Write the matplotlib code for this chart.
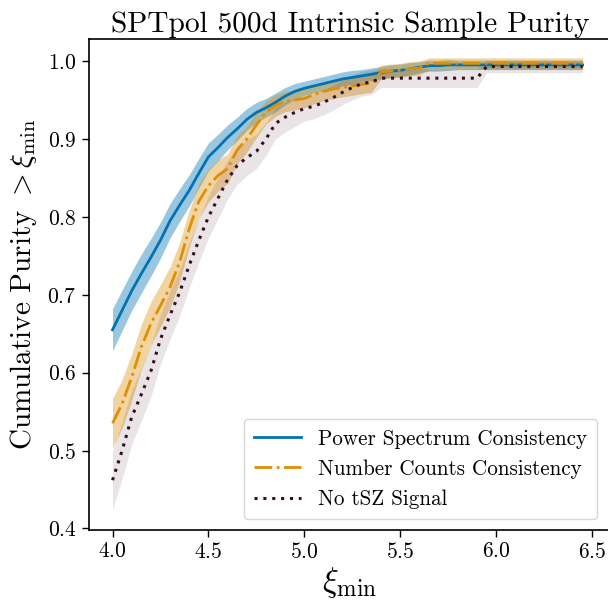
import matplotlib
matplotlib.use('Agg')
import matplotlib.pyplot as plt
import numpy as np

plt.rcParams['font.family'] = 'serif'
plt.rcParams['font.serif'] = ['cmr10']
plt.rcParams['mathtext.fontset'] = 'cm'
plt.rcParams['axes.formatter.use_mathtext'] = True

# xi_min grid
xi = [4.00, 4.05, 4.10, 4.15, 4.20, 4.25, 4.30, 4.35, 4.40, 4.45,
      4.50, 4.55, 4.60, 4.65, 4.70, 4.75, 4.80, 4.85, 4.90, 4.95,
      5.00, 5.05, 5.10, 5.15, 5.20, 5.25, 5.30, 5.35, 5.40, 5.45,
      5.50, 5.55, 5.60, 5.65, 5.70, 5.75, 5.80, 5.85, 5.90, 5.95,
      6.00, 6.05, 6.10, 6.15, 6.20, 6.25, 6.30, 6.35, 6.40, 6.45]

# Power spectrum consistency
ps_mid = [.655, .680, .705, .727, .748, .770, .795, .815, .834, .856,
          .877, .889, .902, .913, .925, .934, .940, .947, .955, .961,
          .965, .968, .971, .974, .977, .979, .981, .983, .985, .987,
          .988, .990, .992, .994, .994, .995, .995, .995, .995, .995,
          .995, .995, .995, .995, .995, .995, .995, .995, .995, .995]
ps_err = [.027, .026, .025, .025, .024, .023, .022, .021, .020, .019,
          .018, .017, .016, .015, .014, .013, .012, .012, .011, .010,
          .009, .009, .009, .009, .009, .009, .008, .008, .008, .008,
          .008, .008, .007, .007, .007, .007, .006, .006, .006, .006,
          .006, .006, .006, .006, .006, .006, .006, .006, .006, .006]

# Number counts consistency
nc_mid = [.535, .560, .594, .633, .663, .686, .710, .742, .785, .820,
          .840, .853, .862, .886, .900, .918, .934, .943, .948, .950,
          .952, .957, .961, .964, .966, .968, .970, .972, .986, .987,
          .988, .990, .991, .997, .997, .997, .997, .997, .997, .997,
          .997, .997, .997, .997, .997, .997, .997, .997, .997, .997]
nc_err = [.032, .031, .030, .029, .028, .027, .026, .025, .024, .022,
          .021, .020, .019, .018, .017, .016, .015, .014, .013, .013,
          .012, .012, .012, .012, .012, .012, .012, .012, .009, .009,
          .009, .009, .009, .007, .007, .007, .007, .007, .007, .007,
          .007, .007, .007, .007, .007, .007, .007, .007, .007, .007]

# No tSZ signal
no_mid = [.462, .500, .543, .572, .602, .643, .674, .703, .738, .770,
          .800, .824, .848, .866, .876, .884, .900, .920, .928, .934,
          .939, .942, .947, .953, .960, .966, .971, .973, .978, .978,
          .978, .978, .978, .978, .978, .978, .978, .978, .978, .993,
          .993, .993, .993, .993, .993, .993, .993, .993, .993, .993]
no_err = [.037, .036, .035, .034, .033, .032, .031, .030, .029, .028,
          .027, .026, .025, .024, .023, .022, .021, .020, .019, .018,
          .016, .016, .016, .016, .016, .016, .016, .016, .012, .012,
          .012, .012, .012, .012, .012, .012, .012, .012, .012, .008,
          .008, .008, .008, .008, .008, .008, .008, .008, .008, .008]

c_blue = '#0173b2'
c_orange = '#de8f05'
c_dark = '#3a0b1f'

fig = plt.figure(figsize=(6.08, 6.03), dpi=100)
ax = fig.add_axes([0.1456, 0.121, 0.86, 0.814])

x = np.array(xi)
for mid, err, col, a in [(ps_mid, ps_err, c_blue, 0.4),
                         (nc_mid, nc_err, c_orange, 0.38),
                         (no_mid, no_err, c_dark, 0.11)]:
    mid = np.array(mid)
    err = np.array(err)
    ax.fill_between(x, mid - err, mid + err, color=col, alpha=a, lw=0)

ax.plot(x, ps_mid, color=c_blue, lw=2, ls='-', label='Power Spectrum Consistency')
ax.plot(x, nc_mid, color=c_orange, lw=2, ls='-.', label='Number Counts Consistency')
ax.plot(x, no_mid, color=c_dark, lw=2.2, ls=(0, (1, 1.9)), label='No tSZ Signal')

ax.set_xlim(3.875, 6.6)
ax.set_ylim(0.398, 1.028)
ax.set_xticks([4.0, 4.5, 5.0, 5.5, 6.0, 6.5])
ax.set_yticks([0.4, 0.5, 0.6, 0.7, 0.8, 0.9, 1.0])
ax.tick_params(labelsize=15.5, length=5, width=1)
for s in ax.spines.values():
    s.set_linewidth(1.2)

ax.set_title('SPTpol 500d Intrinsic Sample Purity', fontsize=21.2, pad=5)
ax.set_xlabel(r'$\xi_{\rm min}$', fontsize=24, labelpad=2)
ax.set_ylabel(r'Cumulative Purity $> \xi_{\rm min}$', fontsize=21, labelpad=6)

leg = ax.legend(loc='lower right', fontsize=15.2, fancybox=True, framealpha=0.8,
                bbox_to_anchor=(0.993, 0.0), borderpad=0.5, handlelength=2.2)

fig.savefig('out.png', dpi=100)
